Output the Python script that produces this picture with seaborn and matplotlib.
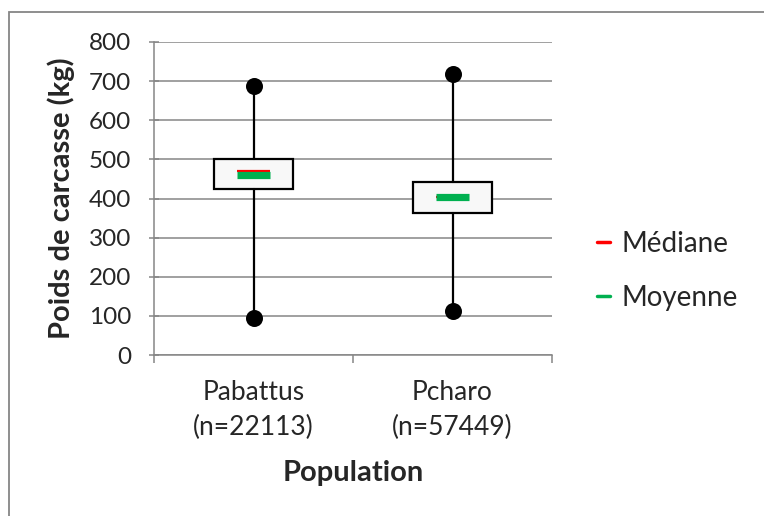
import matplotlib
matplotlib.use("Agg")
import matplotlib.pyplot as plt
import seaborn as sns
import pandas as pd
from matplotlib.lines import Line2D
from matplotlib.patches import Rectangle

# values
populations = ["Pabattus", "Pcharo"]
counts = [22113, 57449]
mins = [95, 112]
q1s = [425, 363]
medians = [471, 403]
means = [459, 403]
q3s = [500, 442]
maxs = [687, 718]

sns.set_theme(style="white")
plt.rcParams["font.family"] = ["Lato", "DejaVu Sans"]

fig = plt.figure(figsize=(7.64, 5.16), dpi=100)
ax = fig.add_axes([154 / 764, 1 - 355 / 516, 398 / 764, 313 / 516])

grid_col = "#868686"
pos = list(range(len(populations)))

stats = []
for i, name in enumerate(populations):
    stats.append(dict(label=name, whislo=mins[i], q1=q1s[i], med=medians[i],
                      q3=q3s[i], whishi=maxs[i], mean=means[i]))

ax.bxp(stats, positions=pos, widths=0.4, showcaps=False, showfliers=False,
       showmeans=False, patch_artist=True,
       boxprops=dict(facecolor="#F8F8F8", edgecolor="black", linewidth=1.6),
       whiskerprops=dict(color="black", linewidth=1.6),
       medianprops=dict(linewidth=0), zorder=3)

ends = pd.DataFrame({"x": pos + pos, "y": mins + maxs})
sns.scatterplot(data=ends, x="x", y="y", ax=ax, color="black", s=150,
                edgecolor="black", linewidth=0, zorder=4, legend=False)

half = 0.083
ax.hlines(medians, [p - half for p in pos], [p + half for p in pos],
          color="#FF0000", linewidth=1.6, zorder=5)
ax.hlines(means, [p - half for p in pos], [p + half for p in pos],
          color="#00B050", linewidth=5.2, zorder=6)

ax.set_xlim(-0.5, len(populations) - 0.5)
ax.set_ylim(0, 800)
ax.set_yticks(range(0, 801, 100))
ax.yaxis.grid(True, color=grid_col, linewidth=1.1)
ax.set_axisbelow(True)
for side in ["top", "right"]:
    ax.spines[side].set_visible(False)
for side in ["left", "bottom"]:
    ax.spines[side].set_color(grid_col)
    ax.spines[side].set_linewidth(1.1)

ax.set_xticks([p - 0.5 for p in pos] + [pos[-1] + 0.5])
ax.set_xticklabels([])
ax.set_xticks(pos, minor=True)
ax.set_xticklabels([f"{n}\n(n={c})" for n, c in zip(populations, counts)],
                   minor=True, fontsize=19, linespacing=1.5)
ax.tick_params(axis="x", which="major", length=6, color=grid_col, width=1.1,
               direction="out", bottom=True)
ax.tick_params(axis="x", which="minor", length=0, pad=18)
ax.tick_params(axis="y", length=7, color=grid_col, width=1.1, direction="inout",
               left=True, labelsize=17.5, pad=13)

ax.set_xlabel("Population", fontsize=21, fontweight="bold", labelpad=14)
ax.set_ylabel("Poids de carcasse (kg)", fontsize=21, fontweight="bold", labelpad=10)

handles = [Line2D([], [], color="#FF0000", linewidth=2.5),
           Line2D([], [], color="#00B050", linewidth=2.5)]
fig.legend(handles, ["Médiane", "Moyenne"], loc="center left",
           bbox_to_anchor=(572 / 764, 1 - 271 / 516), frameon=False,
           fontsize=20, handlelength=0.47, handletextpad=0.43, labelspacing=1.0)

fig.add_artist(Rectangle((9 / 764, -0.2), 2.0, 1.2 - 12 / 516,
                         transform=fig.transFigure, fill=False,
                         edgecolor=grid_col, linewidth=1.3))

fig.savefig("out.png", dpi=100)
